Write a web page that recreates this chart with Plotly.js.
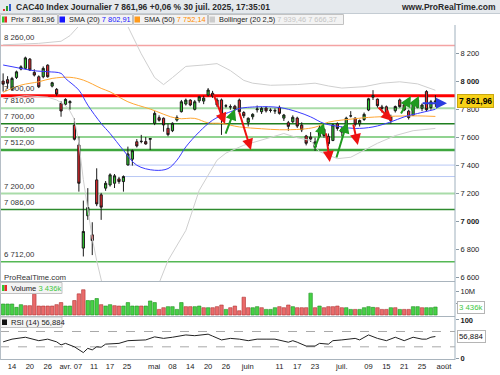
<!DOCTYPE html>
<html><head><meta charset="utf-8">
<script src="https://cdn.plot.ly/plotly-3.0.1.min.js"></script>
<style>html,body{margin:0;padding:0;background:#fff;}#chart{width:500px;height:375px;}</style>
</head><body><div id="chart"></div>
<script>
// ---------------- DATA ----------------
const dates = ['2025-03-12','2025-03-13','2025-03-14','2025-03-17','2025-03-18','2025-03-19','2025-03-20','2025-03-21','2025-03-24','2025-03-25','2025-03-26','2025-03-27','2025-03-28','2025-03-31',
'2025-04-01','2025-04-02','2025-04-03','2025-04-04','2025-04-07','2025-04-08','2025-04-09','2025-04-10','2025-04-11','2025-04-14','2025-04-15','2025-04-16','2025-04-17','2025-04-22','2025-04-23','2025-04-24','2025-04-25','2025-04-28','2025-04-29','2025-04-30',
'2025-05-02','2025-05-05','2025-05-06','2025-05-07','2025-05-08','2025-05-09','2025-05-12','2025-05-13','2025-05-14','2025-05-15','2025-05-16','2025-05-19','2025-05-20','2025-05-21','2025-05-22','2025-05-23','2025-05-26','2025-05-27','2025-05-28','2025-05-29','2025-05-30',
'2025-06-02','2025-06-03','2025-06-04','2025-06-05','2025-06-06','2025-06-09','2025-06-10','2025-06-11','2025-06-12','2025-06-13','2025-06-16','2025-06-17','2025-06-18','2025-06-19','2025-06-20','2025-06-23','2025-06-24','2025-06-25','2025-06-26','2025-06-27','2025-06-30',
'2025-07-01','2025-07-02','2025-07-03','2025-07-04','2025-07-07','2025-07-08','2025-07-09','2025-07-10','2025-07-11','2025-07-14','2025-07-15','2025-07-16','2025-07-17','2025-07-18','2025-07-21','2025-07-22','2025-07-23','2025-07-24','2025-07-25','2025-07-28','2025-07-29','2025-07-30'];

const open  = [8005,8015,7946,8031,8091,8096,8162,8067,8036,8036,8119,7969,7946,7846,
7839,7850,7690,7548,6810,7041,6905,7298,7191,7239,7262,7274,7305,7286,7405,7446,7571,7572,7572,7588,
7703,7743,7739,7667,7650,7726,7786,7841,7869,7803,7864,7862,7905,7918,7870,7870,7826,7822,7825,7869,7780,
7710,7750,7800,7786,7812,7795,7790,7817,7740,7707,7714,7740,7690,7612,7605,7530,7610,7660,7610,7580,7700,
7640,7670,7755,7740,7700,7730,7798,7890,7876,7820,7821,7750,7793,7870,7835,7790,7760,7870,7810,7930,7815,7855];
const high  = [8060,8040,8035,8080,8118,8180,8170,8090,8046,8110,8125,8000,7955,7860,
7882,7868,7738,7607,7150,7239,6995,7381,7205,7290,7345,7340,7320,7330,7536,7515,7590,7620,7605,7596,
7790,7760,7745,7700,7710,7760,7870,7880,7875,7870,7900,7900,7955,7935,7885,7880,7840,7838,7835,7880,7790,
7745,7775,7830,7820,7825,7810,7810,7830,7770,7720,7760,7750,7710,7620,7640,7600,7690,7670,7630,7700,7710,
7680,7750,7790,7745,7730,7780,7885,7940,7880,7835,7830,7765,7830,7880,7845,7800,7860,7880,7845,7940,7870,7905];
const low   = [7930,7950,7935,8020,8082,8090,8078,8038,7955,8025,8030,7960,7900,7750,
7830,7800,7580,7214,6750,7012,6760,7110,7012,7220,7250,7240,7270,7214,7400,7400,7530,7560,7550,7512,
7690,7715,7643,7610,7640,7715,7780,7830,7825,7795,7850,7840,7895,7885,7820,7620,7815,7800,7790,7775,7740,
7680,7730,7780,7770,7780,7780,7770,7765,7720,7650,7705,7670,7640,7545,7570,7505,7600,7600,7540,7575,7650,
7610,7660,7745,7680,7680,7720,7790,7870,7815,7780,7760,7700,7780,7815,7790,7730,7755,7810,7790,7790,7800,7820];
const close = [7983,7990,8024,8071,8107,8171,8084,8048,7964,8096,8036,7993,7912,7791,
7874,7858,7589,7274,6929,7100,6864,7126,7103,7274,7334,7327,7286,7322,7484,7507,7541,7574,7555,7594,
7774,7725,7691,7622,7703,7745,7857,7869,7834,7857,7893,7883,7941,7898,7835,7740,7828,7820,7805,7786,7757,
7739,7767,7805,7810,7792,7797,7795,7774,7762,7681,7746,7683,7656,7560,7590,7570,7670,7616,7557,7692,7666,
7662,7740,7756,7696,7723,7767,7878,7902,7829,7809,7766,7722,7823,7822,7798,7744,7851,7818,7834,7800,7857,7861.96];

// volume in thousands, and bar direction (1 = green, 0 = red)
const volumeK = [4740,4740,4740,3290,4470,4030,4030,8990,3860,3860, 3860,3860,4470,5350,3860,3860,6230,9120,10900,6230,
6230,7100,4470,3860,4470,4030,3860,3860,5350,3860, 3860,3860,3860,6050,5350,2410,3150,3600,3600,2410,
5350,3600,3600,3600,3860,3150,3150,3150,3600,4300, 2410,3150,3860,1840,7680,3150,3150,3600,3150,2410,
2410,3150,3600,3150,4300,3600,3150,3150,3150,9430, 3150,3860,3150,3600,3600,3860,3150,3150,2410,2410,
2410,3150,3600,3290,3150,2410,2410,3150,3150,2410, 2410,2410,3600,3600,3150,3150,3150,3436];
const volUp = [1,1,1,1,1,0,0,0,0,0, 0,0,0,0,1,1,0,0,0,1, 1,1,0,1,1,0,0,1,1,1, 1,0,1,1,1,0,0,1,1,1,
1,0,0,1,1,0,1,0,0,0, 1,0,0,0,0,0,1,1,0,1, 1,1,0,0,0,1,0,0,0,1, 0,1,0,0,0,0,0,1,1,0,
1,1,1,1,0,0,0,1,0,1, 0,0,1,1,0,1,1,1];

// indicator lines (session index -> value)
const sma20Idx = [0,2,7,10,13,14,17,19,22,24,27,30,34,37,39,41,44,47,50,52,53,57,62,66,69,72,76,79,83,87,90,93,97];
const sma20    = [8120,8108,8079,8072,8060,8024,7940,7833,7702,7630,7510,7403,7367,7379,7439,7534,7641,7725,7773,7797,7809,7821,7816,7785,7749,7702,7677,7666,7677,7713,7749,7773,7802.91];
const sma50Idx = [0,4,8,11,15,18,22,24,28,33,39,43,46,49,53,58,62,67,70,73,79,82,88,93,97];
const sma50    = [7925,7976,8000,8024,8032,8012,7953,7928,7857,7805,7738,7738,7706,7702,7677,7664,7657,7661,7675,7711,7736,7745,7754,7756,7752.14];
const bbUpIdx  = [0,8,13,15,17,20,23,26,28,31,34,36,38,41,45,48,51,54,56,60,66,70,73,76,81,85,89,93,97];
const bbUp     = [8265,8275,8290,8330,8400,8550,8600,8500,8395,8200,8030,7980,8030,8110,8120,8130,8080,8010,7990,7975,7980,7990,7970,7955,7965,7990,8000,7985,7939.46];
const bbLoIdx  = [0,5,10,12,14,15,16,17,18,19,20,21,23,26,30,34,37,41,44,48,50,54,59,63,66,69,71,75,78,81,84,88,92,97];
const bbLo     = [7880,7900,7890,7870,7830,7790,7730,7560,7300,7080,6880,6720,6450,6300,6350,6480,6721,6936,7223,7439,7490,7546,7594,7630,7600,7580,7500,7450,7460,7510,7560,7615,7650,7666.37];
const rsiIdx = [0,2,5,7,8,10,12,13,14,16,18,19,20,21,22,23,25,26,28,31,32,34,36,38,41,43,46,47,49,51,53,55,57,59,61,64,65,66,68,70,71,73,74,76,79,80,82,84,86,88,90,92,94,95,96,97];
const rsi    = [43,50,55,48,46,50,43,35,39,30,15,26,22,30,29,37,39,39,46,48,48,56,52,55,61,59,63,58,48,52,50,46,50,50,50,42,46,42,32,32,39,37,46,48,52,48,61,52,46,55,46,55,50,50,55,56.884];

// horizontal levels drawn on the chart
const levels      = [8260, 7900, 7810, 7700, 7605, 7512, 7200, 7086, 6712];
const levelLabels = ['8 260,00','7 900,00','7 810,00','7 700,00','7 605,00','7 512,00','7 200,00','7 086,00','6 712,00'];
const gapLevels = [7404, 7322];
const gapStartIdx = [28, 27];

// x tick labels (session positions) and price ticks
const xTickPos  = [2,6,10,14,16.8,20.4,24,27.8,33.9,38,42,46,50,54.9,62,66,70,76,82,86,90,94,98.9];
const xTickText = ['14','20','26','avr.','07','11','17','25','mai','08','14','20','26','juin','11','17','23','juil.','09','15','21','25','août'];
const priceTicks = [6600,6800,7000,7200,7400,7600,7800,8000,8200,8400];
const priceTickText = ['6 600','6 800','<b>7 000</b>','7 200','7 400','7 600','7 800','<b>8 000</b>','8 200','8 400'];

// drawn arrows [tailIdx, tailPrice, headIdx, headPrice]
const redArrows = [[47.1,7919,49.8,7698],[52.9,7791,55.6,7512],[72.4,7641,73.3,7426],[78.5,7705,79.6,7548],[83.9,7826,87.3,7719]];
const greenArrows = [[49.8,7619,52.0,7805],[69.8,7512,72.0,7705],[74.7,7448,77.2,7712],[89.1,7762,91.5,7898],[91.5,7784,93.3,7898]];
const blueArrow = [93.8,7847,99.6,7847];

// ---------------- LAYOUT HELPERS ----------------
const PW = 455, PT = 27, PB = 360, PH = PB - PT;
const PX = x => x / PW;
const PY = y => (PB - y) / PH;
const idx = dates.map((d, i) => i);
const FONT = 'Liberation Sans, Arial, sans-serif';

const traces = [];
traces.push({type:'scatter', mode:'lines', x:bbUpIdx, y:bbUp, line:{color:'#cfcfcf', width:1}, hoverinfo:'skip', xaxis:'x', yaxis:'y'});
traces.push({type:'scatter', mode:'lines', x:bbLoIdx, y:bbLo, line:{color:'#cfcfcf', width:1}, hoverinfo:'skip', xaxis:'x', yaxis:'y'});
traces.push({type:'scatter', mode:'lines', x:sma50Idx, y:sma50, line:{color:'#ffa733', width:1, shape:'spline'}, hoverinfo:'skip', xaxis:'x', yaxis:'y'});
traces.push({type:'scatter', mode:'lines', x:sma20Idx, y:sma20, line:{color:'#3a3aff', width:1, shape:'spline'}, hoverinfo:'skip', xaxis:'x', yaxis:'y'});
traces.push({type:'candlestick', x:idx, open:open, high:high, low:low, close:close,
  increasing:{line:{color:'#1a1a1a', width:1}, fillcolor:'#2ec82e'},
  decreasing:{line:{color:'#1a1a1a', width:1}, fillcolor:'#e8262a'},
  whiskerwidth:0, hoverinfo:'skip', xaxis:'x', yaxis:'y'});
traces.push({type:'bar', x:idx, y:volumeK, width:0.78,
  marker:{color:volUp.map(u => u ? '#46d146' : '#ea6b6b'), line:{color:volUp.map(u => u ? '#1f8f1f' : '#b03030'), width:0.6}},
  hoverinfo:'skip', xaxis:'x', yaxis:'y2'});
traces.push({type:'scatter', mode:'lines', x:rsiIdx, y:rsi, line:{color:'#222', width:1}, hoverinfo:'skip', xaxis:'x', yaxis:'y3'});

const shapes = [];
const ann = [];
// title bar
shapes.push({type:'rect', xref:'paper', yref:'paper', x0:PX(0), x1:PX(500), y0:PY(13.5), y1:PY(0), fillcolor:'#e5e9ed', line:{width:0}, layer:'below'});
shapes.push({type:'line', xref:'paper', yref:'paper', x0:PX(0), x1:PX(500), y0:PY(13.5), y1:PY(13.5), line:{color:'#c4ccd3', width:1}});
// title icon
[['#e03030',3,9],['#2a9a2a',6,6],['#3060d0',9,4]].forEach(b => shapes.push({type:'rect', xref:'paper', yref:'paper', x0:PX(b[1]), x1:PX(b[1]+2), y0:PY(11), y1:PY(b[2]), fillcolor:b[0], line:{width:0}}));
ann.push({xref:'paper', yref:'paper', x:PX(14), y:PY(7), xanchor:'left', yanchor:'middle', showarrow:false,
  text:'<b>CAC40 Index Journalier 7 861,96 +0,06 % 30 juil. 2025, 17:35:01</b>', font:{size:8.5, color:'#2a2a2a'}});
ann.push({xref:'paper', yref:'paper', x:PX(498), y:PY(7), xanchor:'right', yanchor:'middle', showarrow:false,
  text:'<b>www.ProRealTime.com</b>', font:{size:8.5, color:'#2a2a2a'}});
// legend boxes
const boxes = [[0,57.5],[58,132.5],[133,207.5],[208,343.5]];
boxes.forEach(b => shapes.push({type:'rect', xref:'paper', yref:'paper', x0:PX(b[0]+0.5), x1:PX(b[1]), y0:PY(24.5), y1:PY(14.5), fillcolor:'#f3f3f3', line:{color:'#c2c2c2', width:1}}));
shapes.push({type:'rect', xref:'paper', yref:'paper', x0:PX(2), x1:PX(4.5), y0:PY(22.5), y1:PY(16.5), fillcolor:'#2ec82e', line:{width:0}});
shapes.push({type:'rect', xref:'paper', yref:'paper', x0:PX(4.5), x1:PX(7), y0:PY(22.5), y1:PY(16.5), fillcolor:'#e8262a', line:{width:0}});
shapes.push({type:'rect', xref:'paper', yref:'paper', x0:PX(59.5), x1:PX(65), y0:PY(22.5), y1:PY(16.5), fillcolor:'#1515ff', line:{width:0}});
shapes.push({type:'rect', xref:'paper', yref:'paper', x0:PX(134.5), x1:PX(140), y0:PY(22.5), y1:PY(16.5), fillcolor:'#ff9a1a', line:{width:0}});
shapes.push({type:'rect', xref:'paper', yref:'paper', x0:PX(209.5), x1:PX(215), y0:PY(22.5), y1:PY(16.5), fillcolor:'#cccccc', line:{width:0}});
const legendTexts = [
  [9, 'Prix 7 861,96'],
  [66.5, 'SMA (20) <span style="color:#1515ff">7 802,91</span>'],
  [141.5, 'SMA (50) <span style="color:#ff8c00">7 752,14</span>'],
  [216.5, 'Bollinger (20 2,5) <span style="color:#c4c4c4">7 939,46 7 666,37</span>']
];
legendTexts.forEach(t => ann.push({xref:'paper', yref:'paper', x:PX(t[0]), y:PY(19.5), xanchor:'left', yanchor:'middle', showarrow:false, text:t[1], font:{size:7.4, color:'#222'}}));

// level lines + labels
const levelStyle = [['#f4a3a3',1.5],['#ff0000',3],['#a9dca9',2],['#1f7f1f',1.5],['#6cc46c',1.5],['#3ea63e',2.5],['#a9dca9',2],['#2e8b2e',1.5],['#55b855',1.5]];
levels.forEach((v, i) => {
  shapes.push({type:'line', xref:'paper', yref:'y', x0:0, x1:1, y0:v, y1:v, line:{color:levelStyle[i][0], width:levelStyle[i][1]}, layer:'below'});
  ann.push({xref:'paper', yref:'y', x:PX(2), y:v, xanchor:'left', yanchor:'bottom', yshift:1, showarrow:false, text:levelLabels[i], font:{size:7.8, color:'#333'}});
});
gapLevels.forEach((v, i) => shapes.push({type:'line', xref:'x', yref:'y', x0:gapStartIdx[i], x1:101.4, y0:v, y1:v, line:{color:'#b8c8f4', width:1}, layer:'below'}));
// RSI dashed lines
[70, 30].forEach(v => shapes.push({type:'line', xref:'paper', yref:'y3', x0:0, x1:1, y0:v, y1:v, line:{color:'#a8a8a8', width:1, dash:'dash'}, layer:'below'}));
// panel frame lines
[281.5, 316.5, PB - 0.5].forEach(y => shapes.push({type:'line', xref:'paper', yref:'paper', x0:0, x1:1, y0:PY(y), y1:PY(y), line:{color:'#a9b4bd', width:1}}));
shapes.push({type:'line', xref:'paper', yref:'paper', x0:PX(455), x1:PX(455), y0:PY(PB), y1:PY(25), line:{color:'#9fb0bd', width:1}});
shapes.push({type:'line', xref:'paper', yref:'paper', x0:PX(0.5), x1:PX(0.5), y0:PY(PB), y1:PY(25), line:{color:'#b5bec6', width:1}});

// arrows
const arrowAnn = (a, color) => ({xref:'x', yref:'y', axref:'x', ayref:'y', x:a[2], y:a[3], ax:a[0], ay:a[1], showarrow:true, text:'', arrowhead:2, arrowsize:1.1, arrowwidth:2, arrowcolor:color});
redArrows.forEach(a => ann.push(arrowAnn(a, '#ee1111')));
greenArrows.forEach(a => ann.push(arrowAnn(a, '#1f9a1f')));
ann.push(arrowAnn(blueArrow, '#2a3de0'));

// value tags on the right axis
ann.push({xref:'paper', yref:'y', x:PX(457), y:close[close.length-1], xanchor:'left', yanchor:'middle', showarrow:false, text:'<b>7 861,96</b>', bgcolor:'#f7d117', bordercolor:'#c9a70f', borderwidth:1, borderpad:1, font:{size:8.5, color:'#000'}});
ann.push({xref:'paper', yref:'y2', x:PX(457), y:volumeK[volumeK.length-1], xanchor:'left', yanchor:'middle', showarrow:false, text:'3 436k', bgcolor:'#ffffff', bordercolor:'#b5b5b5', borderwidth:1, borderpad:1, font:{size:7.8, color:'#3ec73e'}});
ann.push({xref:'paper', yref:'y3', x:PX(457), y:rsi[rsi.length-1], xanchor:'left', yanchor:'middle', showarrow:false, text:'56,884', bgcolor:'#ffffff', bordercolor:'#b5b5b5', borderwidth:1, borderpad:1, font:{size:7.8, color:'#111'}});

// sub-panel legends
shapes.push({type:'rect', xref:'paper', yref:'paper', x0:PX(0.5), x1:PX(62), y0:PY(293.5), y1:PY(282.5), fillcolor:'#f3f3f3', line:{color:'#c2c2c2', width:1}});
shapes.push({type:'rect', xref:'paper', yref:'paper', x0:PX(2), x1:PX(4.5), y0:PY(291), y1:PY(285), fillcolor:'#2ec82e', line:{width:0}});
shapes.push({type:'rect', xref:'paper', yref:'paper', x0:PX(4.5), x1:PX(7), y0:PY(291), y1:PY(285), fillcolor:'#e8262a', line:{width:0}});
ann.push({xref:'paper', yref:'paper', x:PX(9), y:PY(288), xanchor:'left', yanchor:'middle', showarrow:false, text:'Volume <span style="color:#3ec73e">3 436k</span>', font:{size:7.6, color:'#222'}});
shapes.push({type:'rect', xref:'paper', yref:'paper', x0:PX(0.5), x1:PX(62), y0:PY(327.5), y1:PY(317), fillcolor:'#f3f3f3', line:{color:'#c2c2c2', width:1}});
shapes.push({type:'rect', xref:'paper', yref:'paper', x0:PX(2), x1:PX(7), y0:PY(325), y1:PY(319.5), fillcolor:'#111', line:{width:0}});
ann.push({xref:'paper', yref:'paper', x:PX(9), y:PY(322.3), xanchor:'left', yanchor:'middle', showarrow:false, text:'RSI (14) 56,884', font:{size:7.6, color:'#222'}});
ann.push({xref:'paper', yref:'paper', x:PX(1.5), y:PY(277.5), xanchor:'left', yanchor:'middle', showarrow:false, text:'ProRealTime.com', font:{size:7.8, color:'#333'}});

const layout = {
  width:500, height:375, margin:{l:0, r:45, t:PT, b:375 - PB, pad:0},
  paper_bgcolor:'#ffffff', plot_bgcolor:'#ffffff', showlegend:false,
  font:{family:FONT, size:8, color:'#222'},
  xaxis:{range:[-0.7, 101.4], anchor:'y3', tickmode:'array', tickvals:xTickPos, ticktext:xTickText, ticks:'', showgrid:false, zeroline:false, showline:false, tickfont:{size:7.6, color:'#222'}, rangeslider:{visible:false}, fixedrange:true},
  yaxis:{domain:[PY(281.5), 1], range:[6571, 8392], side:'right', tickmode:'array', tickvals:priceTicks, ticktext:priceTickText, ticks:'outside', ticklen:3, tickcolor:'#8a9aa6', showgrid:false, zeroline:false, showline:false, tickfont:{size:7.5, color:'#222'}, fixedrange:true},
  yaxis2:{domain:[PY(316.5), PY(282)], range:[-660, 14250], side:'right', tickmode:'array', tickvals:[5000, 10000], ticktext:['5 000k','10M'], ticks:'outside', ticklen:3, tickcolor:'#8a9aa6', showgrid:false, zeroline:false, showline:false, tickfont:{size:7.5, color:'#222'}, fixedrange:true},
  yaxis3:{domain:[0, PY(317)], range:[-4.4, 107.8], side:'right', tickmode:'array', tickvals:[0, 100], ticktext:['<b>0</b>','<b>100</b>'], ticks:'outside', ticklen:3, tickcolor:'#8a9aa6', showgrid:false, zeroline:false, showline:false, tickfont:{size:7.5, color:'#222'}, fixedrange:true},
  shapes:shapes, annotations:ann
};
Plotly.newPlot('chart', traces, layout, {displayModeBar:false, staticPlot:true});
</script></body></html>
